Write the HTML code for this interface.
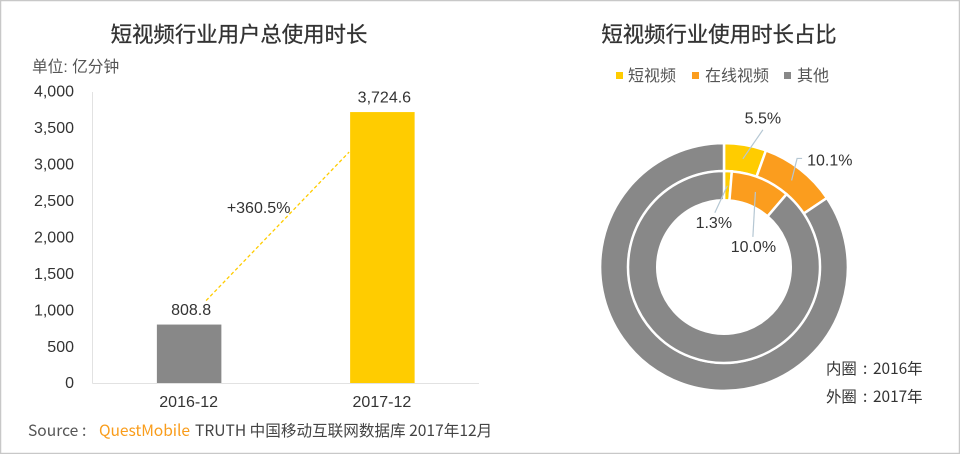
<!DOCTYPE html>
<html lang="zh">
<head>
<meta charset="utf-8">
<title>短视频行业使用时长</title>
<style>
html,body{margin:0;padding:0;background:#fff;}
#chart{display:block;width:960px;height:454px;}
text{font-family:"Liberation Sans","Noto Sans CJK SC",sans-serif;fill:#333;}
.cjk{font-family:"Noto Sans CJK SC","Liberation Sans",sans-serif;}
.title{stroke:#333;stroke-width:0.3px;}
</style>
</head>
<body>
<svg id="chart" xmlns="http://www.w3.org/2000/svg" width="960" height="454" viewBox="0 0 960 454">
  <rect x="0.5" y="0.5" width="959" height="453" fill="#fff" stroke="#c8c8c8" stroke-width="1.5"/>
  <text x="239" y="42" text-anchor="middle" font-size="21.4" class="cjk title">短视频行业用户总使用时长</text>
  <text x="32" y="72" font-size="15.7" style="fill:#555">单位: 亿分钟</text>
  <text x="719" y="42" text-anchor="middle" font-size="21.4" class="cjk title">短视频行业使用时长占比</text>
  <g id="bars"></g>
  <g id="donut"></g>
  <g>
    <rect x="616" y="72" width="7" height="7" fill="#FFCC00"/>
    <text x="628" y="81" font-size="16" style="fill:#555">短视频</text>
    <rect x="692" y="72" width="7" height="7" fill="#FB9D1E"/>
    <text x="705" y="81" font-size="16" style="fill:#555">在线视频</text>
    <rect x="784" y="72" width="7" height="7" fill="#888888"/>
    <text x="797" y="81" font-size="16" style="fill:#555">其他</text>
  </g>
  <text y="374" font-size="15.4" class="cjk"><tspan x="826">内圈</tspan><tspan x="863">:</tspan><tspan x="873">2016年</tspan></text>
  <text y="402" font-size="15.4" class="cjk"><tspan x="826">外圈</tspan><tspan x="863">:</tspan><tspan x="873">2017年</tspan></text>
  <text y="436" font-size="15.6" class="cjk" style="fill:#555"><tspan x="28">Source</tspan><tspan x="82">:</tspan></text>
  <text x="99" y="436" font-size="15.6" class="cjk" style="fill:#F99D1C" textLength="91">QuestMobile</text>
  <text x="195" y="436" font-size="15.6" class="cjk" style="fill:#444">TRUTH 中国移动互联网数据库 2017年12月</text>
</svg>
<script>
var barCategories = ['2016-12', '2017-12'];
var barValues = [808.8, 3724.6];
var barLabels = ['808.8', '3,724.6'];
var yTickValues = [0, 500, 1000, 1500, 2000, 2500, 3000, 3500, 4000];
var yTickLabels = ['0', '500', '1,000', '1,500', '2,000', '2,500', '3,000', '3,500', '4,000'];
var growthLabel = '+360.5%';

var ringCategories = ['短视频', '在线视频', '其他'];
var innerRingValues = [1.3, 10.0, 88.7];
var outerRingValues = [5.5, 10.1, 84.4];
var innerRingLabels = ['1.3%', '10.0%', ''];
var outerRingLabels = ['5.5%', '10.1%', ''];

var NS = 'http://www.w3.org/2000/svg';
var ringColors = ['#FFCC00', '#FB9D1E', '#888888'];
var barColors = ['#888888', '#FFCC00'];

function mk(parent, tag, attrs, text) {
  var el = document.createElementNS(NS, tag);
  for (var k in attrs) el.setAttribute(k, attrs[k]);
  if (text !== undefined) el.textContent = text;
  parent.appendChild(el);
  return el;
}

/* bar chart */
var plotLeft = 92.5, plotRight = 479, plotTop = 92, plotBottom = 383.5, yMax = 4000;
function yScale(v) { return plotBottom - (v / yMax) * (plotBottom - plotTop); }
function xBand(i) { return plotLeft + (plotRight - plotLeft) * (i + 0.5) / barCategories.length; }
var barWidth = 64.5;
var barsG = document.getElementById('bars');

var yAxisLine = mk(barsG, 'line', {x1: plotLeft, x2: plotLeft, y1: plotTop, y2: plotBottom, stroke: '#e2e2e2', 'stroke-width': 1});



yTickValues.forEach(function (v, i) {
  var t = mk(barsG, 'text', {x: 74, y: yScale(v) + 4.7, 'text-anchor': 'end', 'font-size': 16}, yTickLabels[i]);
  
  
});

barValues.forEach(function (v, i) {
  var cx = xBand(i);
  var r = mk(barsG, 'rect', {x: cx - barWidth / 2, y: yScale(v), width: barWidth, height: plotBottom - yScale(v), fill: barColors[i]});
  
  
  var l = mk(barsG, 'text', {x: cx + 2, y: yScale(v) - 9.5, 'text-anchor': 'middle', 'font-size': 16}, barLabels[i]);
  
  
  var c = mk(barsG, 'text', {x: cx - 0.5, y: 407, 'text-anchor': 'middle', 'font-size': 16}, barCategories[i]);
  
  
});

var xAxisLine = mk(barsG, 'line', {x1: plotLeft, x2: plotRight, y1: plotBottom, y2: plotBottom, stroke: '#e2e2e2', 'stroke-width': 1});



var gx1 = xBand(0) + 17, gy1 = yScale(barValues[0]) - 24;
var gx2 = xBand(1) - barWidth / 2 - 1, gy2 = yScale(barValues[1]) + 40;
var growthLine = mk(barsG, 'line', {x1: gx1, y1: gy1, x2: gx2, y2: gy2, stroke: '#FFCC00', 'stroke-width': 1.3, 'stroke-dasharray': '3.5 2.5'});


var growthText = mk(barsG, 'text', {x: (gx1 + gx2) / 2 - 19, y: (gy1 + gy2) / 2 - 13.5, 'text-anchor': 'middle', 'font-size': 16}, growthLabel);



/* donut chart */
var cx = 724, cy = 267;
var donutG = document.getElementById('donut');
function polar(r, deg) {
  var a = deg * Math.PI / 180;
  return [cx + r * Math.sin(a), cy - r * Math.cos(a)];
}
function ringPath(r0, r1, a0, a1) {
  var large = a1 - a0 > 180 ? 1 : 0;
  var p0 = polar(r1, a0), p1 = polar(r1, a1), p2 = polar(r0, a1), p3 = polar(r0, a0);
  return 'M' + p0 + 'A' + r1 + ' ' + r1 + ' 0 ' + large + ' 1 ' + p1 +
         'L' + p2 + 'A' + r0 + ' ' + r0 + ' 0 ' + large + ' 0 ' + p3 + 'Z';
}
function drawRing(name, values, labels, r0, r1) {
  var total = values.reduce(function (a, b) { return a + b; }, 0);
  var start = 0, anchors = [];
  values.forEach(function (v, i) {
    var end = start + v / total * 360;
    var s = mk(donutG, 'path', {d: ringPath(r0, r1, start, end), fill: ringColors[i], stroke: '#fff', 'stroke-width': 2.5, 'stroke-linejoin': 'miter'});
    
    
    anchors.push(polar((r0 + r1) / 2, (start + end) / 2));
    start = end;
  });
  return anchors;
}
/* leader: list of [dx, dy] steps from the slice anchor; the label is placed relative to the last point */
function drawLeaders(name, labels, anchors, leaders) {
  labels.forEach(function (txt, i) {
    if (!txt) return;
    var pts = [anchors[i]], L = leaders[i];
    L.steps.forEach(function (d) {
      var last = pts[pts.length - 1];
      pts.push([last[0] + d[0], last[1] + d[1]]);
    });
    var line = mk(donutG, 'polyline', {points: pts.join(' '), fill: 'none', stroke: '#B5C7D3', 'stroke-width': 1.2});
    
    
    var end = pts[pts.length - 1];
    var t = mk(donutG, 'text', {x: end[0] + L.dx, y: end[1] + L.dy, 'text-anchor': L.anchor, 'font-size': 16}, txt);
    
    
  });
}
var outerAnchors = drawRing('outer-ring', outerRingValues, outerRingLabels, 95.75, 123.9);
var innerAnchors = drawRing('inner-ring', innerRingValues, innerRingLabels, 66.75, 96);
drawLeaders('outer-ring', outerRingLabels, outerAnchors, [
  {steps: [[20, -29]], dx: 0, dy: -6.5, anchor: 'middle'},
  {steps: [[5.5, -22], [5, 0]], dx: 5, dy: 7, anchor: 'start'}
]);
drawLeaders('inner-ring', innerRingLabels, innerAnchors, [
  {steps: [[-12.5, 27]], dx: -1, dy: 15.5, anchor: 'middle'},
  {steps: [[-2.5, 45]], dx: 0.5, dy: 15, anchor: 'middle'}
]);
</script>
</body>
</html>
